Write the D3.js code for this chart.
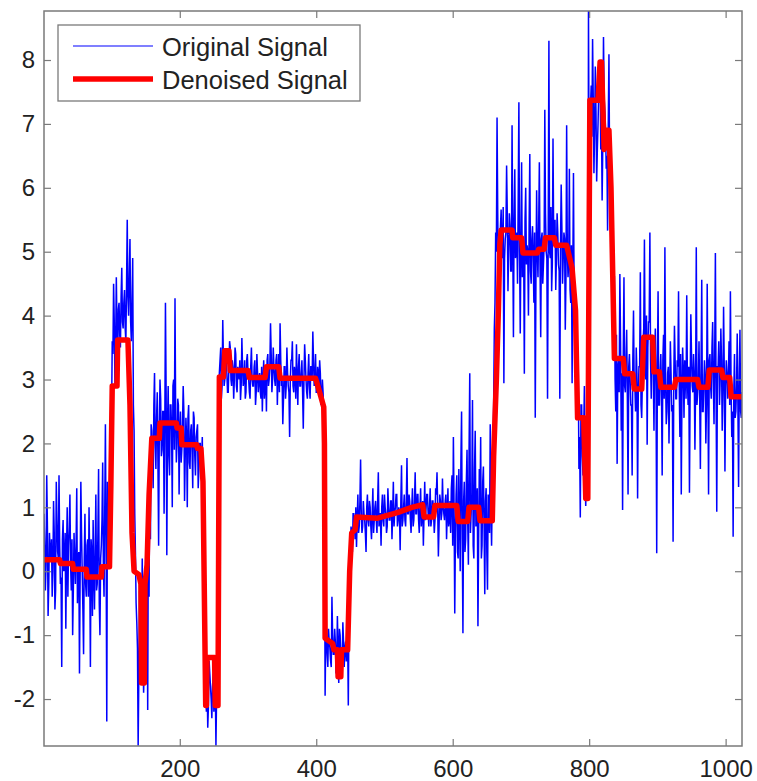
<!DOCTYPE html>
<html>
<head>
<meta charset="utf-8">
<script src="https://cdn.jsdelivr.net/npm/d3@7"></script>
<style>
  html, body { margin: 0; padding: 0; background: #ffffff; }
  svg { display: block; }
</style>
</head>
<body>
<script>
// Series labels and axis setup
const seriesNames = ["Original Signal", "Denoised Signal"];
const xTickValues = [200, 400, 600, 800, 1000];
const yTickValues = [-2, -1, 0, 1, 2, 3, 4, 5, 6, 7, 8];
const xLimits = [1, 1024];
const yLimits = [-2.735, 8.767];

// Noisy measurement, samples 1, 3, 5, ... 1023
const samplesOddIndex = [
  // baseline near 0
  0.9, -0.3, 1.5, -0.7, 0.6, 0.2, -0.4, 1.1, -0.6, 1.4,
  0.3, 1.5, -0.2, -1.5, 0.8, 0.1, -0.9, 1.0, 0.4, 1.2,
  -0.3, -1.0, 0.6, -0.2, 1.3, 0.2, -1.6, 1.4, 0.0, -1.3,
  0.9, -0.4, 0.5, 1.0, -1.5, 0.3, 0.8, -0.6, 1.2, -0.2,
  1.6, -1.0, 0.4, 1.7, -0.4, 2.3, -2.35,
  // first peak
  1.1, 0.6, 2.8, 3.6, 4.5, 2.9, 4.6, 3.3, 4.2, 3.5,
  4.75, 3.8, 4.4, 3.6, 5.5, 4.0, 5.2, 3.6, 4.9, 2.2,
  // short dip
  0.3, -0.8, -2.73, -0.3, -1.4, 0.2, -1.9, -0.6, -1.2, -2.17, -0.4,
  // level near 2
  0.5, 2.2, 1.3, 3.1, 1.6, 2.8, 0.4, 3.0, 1.8, 2.5,
  0.9, 4.2, 0.25, 2.9, 1.5, 2.6, 1.0, 3.0, 4.27, 1.7,
  2.7, 1.2, 2.5, 1.9, 2.9, 1.1, 2.4, 1.0, 2.6, 1.6,
  2.3, 1.3, 2.4, 1.5, 2.2, 1.3, 2.0, 1.5, 2.1, 0.8,
  // deep dip
  -1.5, -2.2, -2.45, -1.4, -1.8, -2.3, -1.6, -2.0, -2.73, -1.2,
  // plateau near 3
  2.4, 3.3, 2.7, 3.93, 2.9, 3.4, 3.1, 2.8, 3.6, 3.0,
  3.3, 2.7, 3.5, 2.9, 3.2, 3.0, 2.68, 3.65, 2.9, 3.3,
  2.8, 3.4, 3.0, 2.7, 3.5, 2.9, 3.2, 2.6, 3.4, 2.8,
  3.1, 2.7, 2.5, 3.3, 2.9, 2.5, 3.4, 3.0, 3.88, 2.8,
  3.5, 3.0, 3.3, 2.6, 3.4, 3.88, 2.9, 2.3, 3.2, 2.7,
  3.5, 2.9, 2.1, 3.3, 3.6, 2.8, 3.1, 3.55, 2.6, 3.4,
  2.9, 3.3, 2.23, 3.55, 3.0, 2.7, 3.4, 2.7, 3.2, 3.75,
  2.9, 3.4, 2.8, 3.1, 3.3, 2.6, 3.0, 2.5,
  // negative segment
  -1.95, -0.9, -1.5, -1.1, -1.4, -0.4, -1.3, -0.9, -1.6, -0.7,
  -1.75, -1.0, -1.3, -0.8, -1.5, -1.1, -1.4, -2.1,
  // level near 1
  -0.6, 0.7, 0.3, 0.9, 0.5, 0.38, 1.2, 0.7, 1.75, 0.6,
  1.1, 0.8, 0.3, 1.2, 0.7, 1.0, 0.5, 1.3, 0.8, 1.1,
  0.6, 1.55, 0.9, 0.4, 1.2, 0.7, 1.0, 0.6, 1.3, 0.8,
  1.1, 0.5, 1.4, 0.9, 1.2, 0.7, 1.0, 0.33, 1.66, 0.8,
  1.2, 0.7, 1.77, 0.9, 1.1, 0.6, 1.3, 0.8, 1.55, 0.9,
  1.2, 0.6, 1.3, 0.9, 0.4, 1.4, 1.0, 1.2, 0.7, 1.3,
  0.8, 1.1, 0.6, 1.3, 1.55, 0.23, 1.2, 0.8, 1.45, 0.9,
  1.1, 0.5, 1.3, 0.8,
  // noisier stretch before the jump
  0.6, 1.5, 2.1, -0.66, 1.2, 0.3, 1.6, 0.0, 2.5, -0.97,
  1.4, 0.5, 1.9, 0.1, 3.1, 0.9, 2.68, 0.2, 2.2, 1.0,
  -0.86, 1.6, 2.1, 0.4, 1.64, -0.36, 1.3, -0.29, 0.9, 2.3,
  0.4,
  // plateau near 5
  1.9, 3.8, 5.3, 7.1, 4.6, 4.0, 5.66, 4.9, 2.94, 5.2,
  6.35, 4.38, 5.6, 4.7, 6.98, 3.66, 6.29, 5.0, 4.5, 7.34,
  3.72, 6.4, 4.8, 3.09, 6.0, 5.1, 4.0, 6.53, 4.5, 5.4,
  4.2, 2.4, 5.96, 4.6, 6.4, 3.66, 5.3, 4.8, 7.22, 5.0,
  2.7, 8.3, 4.9, 4.38, 6.77, 5.2, 4.4, 5.6, 4.8, 2.7,
  6.05, 4.5, 5.3, 3.78, 6.98, 4.6, 6.3, 4.2, 2.94, 6.23,
  // drop
  4.0, 2.4, 3.5, 1.6, 0.84, 2.6, 1.5, 2.9, 1.02, 2.0,
  // highest peak
  8.77, 6.4, 7.6, 8.33, 6.23, 7.9, 6.1, 7.0, 7.7, 6.6,
  5.8, 8.36, 7.2, 6.3, 5.33, 8.09, 6.0, 5.0,
  // tail near 3
  3.6, 4.62, 2.5, 1.68, 3.3, 4.65, 2.2, 0.96, 4.6, 2.8,
  3.78, 1.2, 3.4, 2.6, 1.5, 4.08, 2.9, 3.5, 1.14, 3.2,
  4.68, 2.4, 3.6, 5.19, 3.0, 1.98, 3.9, 5.3, 2.7, 3.5,
  2.2, 3.8, 0.28, 4.38, 2.6, 3.4, 1.5, 3.7, 5.07, 2.3,
  3.1, 2.0, 3.6, 2.5, 0.46, 3.84, 2.7, 3.3, 4.38, 2.1,
  1.2, 3.5, 2.4, 3.2, 4.32, 2.6, 1.23, 4.02, 2.9, 3.4,
  1.9, 5.07, 2.8, 3.6, 1.6, 4.56, 2.5, 3.3, 2.0, 4.5,
  1.2, 3.4, 2.7, 3.9, 2.3, 4.98, 0.93, 3.2, 2.6, 3.8,
  2.2, 4.14, 1.56, 3.3, 2.7, 3.6, 4.38, 2.1, 0.54, 3.4,
  2.5, 3.72, 1.32, 3.78, 2.4
];

// Noisy measurement, samples 2, 4, 6, ... 1024
const samplesEvenIndex = [
  // baseline near 0
  0.4, 0.1, 0.7, -0.2, 0.3, 0.5, 0.0, 0.6, -0.3, 0.8,
  0.2, 0.4, -0.1, 0.5, 0.0, 0.6, 0.3, -0.4, 0.7, 0.1,
  0.5, -0.3, 0.2, 0.4, -0.5, 0.3, 0.0, 0.6, -0.6, 0.2,
  -0.2, 0.4, -0.4, 0.1, 0.5, -0.7, 0.0, 0.3, -0.3, 0.6,
  -0.5, 0.2, 0.8, 0.1, 0.9, 0.5, 1.4,
  // first peak
  0.4, 1.6, 2.4, 3.4, 3.9, 3.5, 3.8, 4.1, 3.7, 4.3,
  3.9, 4.2, 3.8, 4.5, 4.3, 4.6, 3.9, 4.2, 2.6, 0.9,
  // short dip
  -0.5, -1.2, -1.6, -0.9, -0.7, -1.1, -1.4, -0.8, 0.2, 1.0, 1.6,
  // level near 2
  2.3, 1.8, 2.6, 2.0, 2.4, 1.7, 2.2, 2.7, 1.9, 2.5,
  2.1, 2.8, 2.3, 1.8, 2.6, 2.2, 2.9, 1.9, 2.4, 2.0,
  2.6, 2.2, 1.7, 2.3, 2.5, 1.8, 2.1, 2.4, 1.7, 2.2,
  1.9, 2.5, 1.8, 2.1, 2.3, 1.6, 2.0, 1.8, 1.2, -0.3,
  // deep dip
  -1.9, -1.7, -2.1, -1.6, -2.0, -1.8, -2.2, -1.7, -1.9, 0.8,
  // plateau near 3
  3.1, 3.5, 2.9, 3.3, 3.0, 3.4, 2.8, 3.2, 3.5, 2.9,
  3.2, 3.0, 3.4, 2.8, 3.1, 3.3, 2.9, 3.2, 3.0, 2.7,
  3.3, 3.1, 2.8, 3.2, 3.0, 2.9, 3.3, 2.8, 3.1, 3.0,
  2.8, 3.2, 3.0, 2.7, 3.1, 3.3, 2.9, 3.2, 3.4, 3.0,
  3.2, 2.9, 3.4, 3.1, 2.8, 3.3, 3.0, 2.7, 3.2, 2.9,
  3.1, 2.8, 3.0, 3.3, 2.9, 3.2, 2.7, 3.0, 3.2, 2.9,
  3.1, 2.8, 3.0, 3.3, 2.8, 3.1, 2.9, 3.2, 3.0, 3.3,
  3.0, 2.8, 3.2, 2.9, 3.1, 2.7, 2.8, 1.2,
  // negative segment
  -1.0, -1.3, -0.9, -1.2, -1.5, -1.0, -1.3, -1.1, -1.4, -1.2,
  -0.9, -1.3, -1.5, -1.1, -1.2, -1.4, -1.0, -0.6,
  // level near 1
  0.2, 0.6, 0.9, 0.7, 1.0, 0.8, 0.6, 1.1, 0.9, 0.7,
  0.9, 0.6, 1.0, 0.8, 1.1, 0.7, 0.9, 0.6, 1.0, 0.8,
  1.1, 0.7, 0.9, 1.0, 0.8, 1.2, 0.9, 0.7, 1.0, 0.8,
  1.1, 0.9, 0.7, 1.0, 1.2, 0.8, 0.9, 1.1, 0.7, 1.0,
  0.8, 1.1, 0.9, 1.2, 0.8, 1.0, 0.7, 1.1, 0.9, 1.2,
  0.8, 1.0, 0.7, 1.1, 0.9, 0.8, 1.2, 0.9, 1.0, 0.7,
  1.1, 0.9, 0.8, 1.2, 1.0, 0.7, 1.1, 0.9, 1.0, 0.8,
  1.2, 0.9, 0.7, 1.1,
  // noisier stretch before the jump
  1.3, 0.4, 1.0, 0.6, 1.5, 0.2, 0.9, 1.7, 0.5, 1.1,
  0.3, 1.4, 0.8, 1.9, 0.6, 1.2, 0.4, 1.6, 0.7, 1.3,
  0.5, 1.0, 0.2, 1.4, 0.7, 1.1, 0.3, 1.2, 0.6, 1.0,
  1.3,
  // plateau near 5
  2.6, 4.2, 5.0, 5.6, 4.8, 5.4, 5.1, 5.7, 4.9, 5.3,
  5.6, 5.0, 5.4, 4.7, 5.2, 5.5, 4.9, 5.3, 5.8, 5.0,
  5.2, 4.6, 5.1, 5.5, 4.8, 5.0, 5.4, 4.7, 5.2, 4.9,
  5.3, 4.6, 5.0, 5.4, 4.8, 5.2, 4.5, 5.1, 5.6, 4.9,
  5.3, 5.0, 5.7, 4.8, 5.2, 5.5, 4.9, 5.3, 4.7, 5.1,
  5.4, 4.9, 5.2, 4.6, 5.0, 4.8, 4.4, 5.1, 4.6, 4.2,
  // drop
  3.6, 2.9, 3.2, 2.1, 2.6, 1.8, 2.2, 1.4, 1.9, 1.3,
  // highest peak
  6.1, 7.3, 6.8, 7.4, 6.9, 7.2, 6.6, 7.5, 7.8, 7.1,
  6.7, 7.4, 6.9, 6.5, 7.0, 6.2, 5.4, 4.2,
  // tail near 3
  3.5, 3.0, 3.7, 3.2, 2.8, 3.6, 3.1, 3.4, 2.9, 3.3,
  2.7, 3.2, 3.0, 2.6, 3.3, 2.9, 2.5, 3.1, 2.8, 3.2,
  2.6, 3.0, 3.8, 3.4, 4.0, 3.5, 3.9, 3.3, 3.7, 3.1,
  3.4, 2.9, 3.2, 2.6, 3.1, 2.8, 3.3, 2.7, 3.0, 2.5,
  3.2, 2.8, 3.1, 2.6, 3.0, 3.3, 2.7, 3.2, 2.9, 3.4,
  2.8, 3.1, 3.3, 2.7, 3.0, 3.2, 2.9, 3.4, 2.8, 3.1,
  2.9, 2.6, 3.0, 2.7, 3.2, 2.5, 2.9, 3.1, 2.6, 3.0,
  3.3, 2.9, 3.5, 3.0, 3.4, 2.8, 3.2, 3.6, 3.0, 3.3,
  2.8, 3.2, 2.9, 3.1, 3.0, 2.6, 2.9, 2.5, 2.8, 2.4,
  2.9, 2.6, 3.0, 2.5, 2.8
];

// Denoised (piecewise-constant) estimate: sample index and value at each vertex
const denoisedIndex = [
  1, 24, 25, 43, 44, 63, 64, 85, 86, 97,
  99, 101, 108, 109, 124, 127, 130, 133, 140, 143,
  144, 148, 149, 152, 155, 159, 170, 171, 195, 196,
  202, 203, 225, 226, 231, 234, 238, 239, 240, 251,
  252, 256, 257, 258, 264, 266, 272, 274, 300, 302,
  325, 327, 345, 347, 399, 405, 411, 412, 413, 424,
  426, 431, 432, 436, 437, 446, 449, 452, 457, 459,
  490, 520, 540, 556, 558, 572, 574, 606, 608, 622,
  624, 638, 640, 658, 660, 664, 667, 669, 671, 687,
  688, 701, 703, 724, 726, 734, 736, 749, 751, 767,
  775, 780, 783, 792, 795, 798, 801, 813, 816, 818,
  822, 825, 829, 832, 837, 850, 852, 864, 866, 877,
  880, 893, 895, 903, 905, 925, 927, 959, 961, 974,
  976, 994, 996, 1006, 1008, 1024
];
const denoisedValue = [
  0.18, 0.18, 0.12, 0.12, 0.03, 0.03, -0.09, -0.09, 0.07, 0.07,
  1.35, 2.9, 2.9, 3.62, 3.62, 2.6, 0.6, 0.0, -0.05, -0.2,
  -1.75, -1.75, -0.2, 0.1, 1.2, 2.08, 2.08, 2.32, 2.32, 2.24,
  2.24, 1.98, 1.98, 1.92, 1.92, 1.4, -2.1, -2.1, -1.35, -1.35,
  -2.1, -2.1, 0.5, 3.04, 3.04, 3.45, 3.45, 3.14, 3.14, 3.03,
  3.03, 3.2, 3.2, 3.02, 3.02, 2.8, 2.57, 2.0, -1.05, -1.13,
  -1.23, -1.23, -1.65, -1.65, -1.23, -1.23, 0.0, 0.6, 0.65, 0.85,
  0.83, 0.92, 1.0, 1.04, 0.85, 0.85, 1.03, 1.03, 0.78, 0.78,
  1.0, 1.0, 0.79, 0.79, 1.8, 3.0, 4.1, 5.1, 5.34, 5.34,
  5.22, 5.22, 4.98, 4.98, 5.04, 5.04, 5.22, 5.22, 5.1, 5.1,
  4.74, 4.08, 2.4, 2.4, 1.14, 1.14, 7.37, 7.37, 7.97, 7.97,
  6.6, 6.9, 6.9, 6.0, 3.33, 3.33, 3.09, 3.09, 2.85, 2.85,
  3.66, 3.66, 3.12, 3.12, 2.88, 2.88, 3.0, 3.0, 2.88, 2.88,
  3.15, 3.15, 3.03, 3.03, 2.73, 2.73
];

// Merge the two sample sets back into sample order
const original = [];
samplesOddIndex.forEach((v, k) => {
  original.push({ idx: 2 * k + 1, v });
  original.push({ idx: 2 * k + 2, v: samplesEvenIndex[k] });
});
const denoised = denoisedIndex.map((idx, j) => ({ idx, v: denoisedValue[j] }));

const W = 757, H = 781;
const plot = { left: 44, right: 742, top: 11, bottom: 746 };
const axisColor = "#7a7a7a";
const textColor = "#222222";
const fontFamily = "'Liberation Sans', Arial, Helvetica, sans-serif";

const svg = d3.select("body").append("svg")
  .attr("width", W).attr("height", H)
  .style("font-family", fontFamily);

const x = d3.scaleLinear().domain(xLimits).range([plot.left, plot.right]);
const y = d3.scaleLinear().domain(yLimits).range([plot.bottom, plot.top]);

svg.append("defs").append("clipPath").attr("id", "plot-clip")
  .append("rect")
  .attr("x", plot.left).attr("y", plot.top)
  .attr("width", plot.right - plot.left).attr("height", plot.bottom - plot.top);

const dataLayer = svg.append("g").attr("clip-path", "url(#plot-clip)");
const line = d3.line().x(d => x(d.idx)).y(d => y(d.v));

// Noisy signal
dataLayer.append("path")
  .datum(original)
  .attr("fill", "none")
  .attr("stroke", "#0000ff")
  .attr("stroke-width", 1.5)
  .attr("d", line);

// Denoised signal
dataLayer.append("path")
  .datum(denoised)
  .attr("fill", "none")
  .attr("stroke", "#ff0000")
  .attr("stroke-width", 5.5)
  .attr("stroke-linejoin", "round")
  .attr("stroke-linecap", "round")
  .attr("d", line);

// Axes with inward ticks on all four sides
const plainNumber = d => String(d);
function styleAxis(g) {
  g.select(".domain").remove();
  g.selectAll(".tick line").attr("stroke", axisColor).attr("stroke-width", 1.2);
  g.selectAll(".tick text")
    .attr("fill", textColor)
    .style("font-size", "24px")
    .style("font-family", fontFamily);
}

svg.append("g")
  .attr("transform", `translate(0,${plot.bottom})`)
  .call(d3.axisBottom(x).tickValues(xTickValues).tickSizeInner(-7).tickSizeOuter(0)
    .tickPadding(14).tickFormat(plainNumber))
  .call(styleAxis);

svg.append("g")
  .attr("transform", `translate(0,${plot.top})`)
  .call(d3.axisTop(x).tickValues(xTickValues).tickSizeInner(-7).tickSizeOuter(0).tickFormat(""))
  .call(styleAxis);

svg.append("g")
  .attr("transform", `translate(${plot.left},0)`)
  .call(d3.axisLeft(y).tickValues(yTickValues).tickSizeInner(-7).tickSizeOuter(0)
    .tickPadding(9).tickFormat(plainNumber))
  .call(styleAxis);

svg.append("g")
  .attr("transform", `translate(${plot.right},0)`)
  .call(d3.axisRight(y).tickValues(yTickValues).tickSizeInner(-7).tickSizeOuter(0).tickFormat(""))
  .call(styleAxis);

// Axes box
svg.append("rect")
  .attr("x", plot.left).attr("y", plot.top)
  .attr("width", plot.right - plot.left).attr("height", plot.bottom - plot.top)
  .attr("fill", "none").attr("stroke", axisColor).attr("stroke-width", 1.5);

// Legend
const legend = svg.append("g");
legend.append("rect")
  .attr("x", 58).attr("y", 25).attr("width", 302).attr("height", 76)
  .attr("fill", "#ffffff").attr("stroke", axisColor).attr("stroke-width", 1.3);

const legendItems = [
  { name: seriesNames[0], color: "#0000ff", width: 1.2, cy: 46, base: 55.5 },
  { name: seriesNames[1], color: "#ff0000", width: 5.5, cy: 79, base: 89 }
];
legendItems.forEach(it => {
  legend.append("line")
    .attr("x1", 73).attr("x2", 153).attr("y1", it.cy).attr("y2", it.cy)
    .attr("stroke", it.color).attr("stroke-width", it.width);
  legend.append("text")
    .attr("x", 162).attr("y", it.base)
    .attr("fill", textColor)
    .style("font-size", "25.5px")
    .text(it.name);
});
</script>
</body>
</html>
